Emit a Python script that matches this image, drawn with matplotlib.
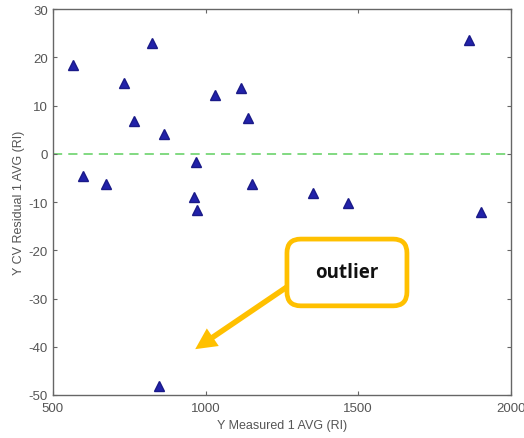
import numpy as np
import matplotlib.pyplot as plt
from matplotlib.patches import FancyBboxPatch

# DATA
measured = [565, 599, 674, 732, 765, 824, 865, 967, 963, 971,
            1030, 1117, 1139, 1153, 1352, 1466, 1864, 1903, 846]
residual = [18.4, -4.7, -6.2, 14.6, 6.9, 23.0, 4.2, -1.6, -9.0, -11.7,
            12.2, 13.6, 7.5, -6.3, -8.2, -10.2, 23.6, -12.1, -48.1]
xticks = [500, 1000, 1500, 2000]
yticks = [-50, -40, -30, -20, -10, 0, 10, 20, 30]

gray = "#666666"
orange = "#FFC000"
plt.rcParams['font.family'] = ['Liberation Sans', 'DejaVu Sans']
plt.rcParams['axes.unicode_minus'] = False

fig = plt.figure(figsize=(5.24, 4.39), dpi=100)
ax = fig.add_axes([0.101, 0.098, 0.874, 0.879])

ax.axhline(0, color="#5FCF5F", ls=(0, (6, 4)), lw=1.1, zorder=1)
ax.plot(measured, residual, "^", color="#2222AA", mec="#1A1A88",
        ms=7.5, ls="none", zorder=3)

ax.set_xlim(500, 2000)
ax.set_ylim(-50, 30)
ax.set_xticks(xticks)
ax.set_yticks(yticks)
ax.tick_params(direction="in", top=True, right=True, colors=gray,
               labelsize=9.5, length=3, width=0.8, labelcolor="#555555")
ax.tick_params(axis="x", pad=5)
for s in ax.spines.values():
    s.set_color(gray)
    s.set_linewidth(1.0)

ax.set_xlabel("Y Measured 1 AVG (RI)", fontsize=9, color="#555555", labelpad=4)
ax.set_ylabel("Y CV Residual 1 AVG (RI)", fontsize=9, color="#555555", labelpad=3)

# callout box
box = FancyBboxPatch((0.511, 0.231), 0.262, 0.173,
                     boxstyle="round,pad=0,rounding_size=0.03",
                     transform=ax.transAxes, fc="white", ec=orange,
                     lw=3.4, zorder=5, mutation_aspect=1.2)
ax.add_patch(box)
ax.text(0.642, 0.319, "outlier", transform=ax.transAxes, ha="center",
        va="center", fontsize=13.5, fontweight="bold", family="Open Sans",
        color="#111111", zorder=6)
ax.annotate("", xy=(966, -40.5), xycoords="data",
            xytext=(0.511, 0.28), textcoords="axes fraction",
            arrowprops=dict(arrowstyle="simple,tail_width=0.22,head_width=0.85,head_length=0.85",
                            fc=orange, ec="none", mutation_scale=18,
                            shrinkA=0, shrinkB=0),
            zorder=4)

fig.savefig("out.png", dpi=100)
